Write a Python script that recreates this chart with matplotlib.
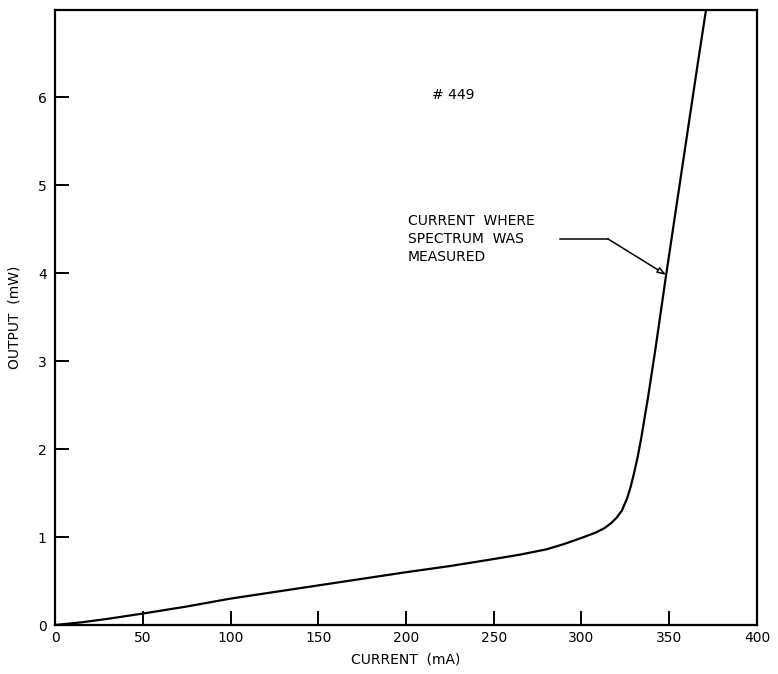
import matplotlib
matplotlib.use("Agg")
from matplotlib import pyplot as plt

# laser #449: light output vs drive current
current = [0, 15, 30, 50, 75, 100, 150, 200, 225, 250, 265, 280, 290, 300,
           308, 313, 317, 320, 323, 326, 328, 330, 332, 334, 338, 342, 348,
           354, 360, 366, 371]
output = [0, 0.03, 0.07, 0.13, 0.21, 0.30, 0.45, 0.60, 0.67, 0.75, 0.80, 0.86,
          0.92, 0.99, 1.05, 1.10, 1.16, 1.22, 1.30, 1.44, 1.57, 1.73, 1.91,
          2.12, 2.60, 3.12, 3.95, 4.75, 5.55, 6.35, 7.00]

x_ticks = [0, 50, 100, 150, 200, 250, 300, 350, 400]
y_ticks = [0, 1, 2, 3, 4, 5, 6]

label_pos = (201, 4.39)
leader_start = (288, 4.39)
leader_knee = (315, 4.39)
measured_point = (348.2, 3.98)

plt.rcParams['font.family'] = ['DejaVu Sans']

fig = plt.figure(figsize=(7.78, 6.74), dpi=100)
ax = fig.add_axes([0.0707, 0.0727, 0.9023, 0.9123])

ax.plot(current, output, color='black', lw=1.6, solid_capstyle='round',
        solid_joinstyle='round')

ax.set_xlim(0, 400)
ax.set_ylim(0, 6.99)
ax.set_xticks(x_ticks)
ax.set_yticks(y_ticks)
ax.tick_params(direction='in', length=10, width=1.4, labelsize=10, pad=6,
               colors='black')
ax.tick_params(axis='x', pad=4)
for s in ax.spines.values():
    s.set_linewidth(1.6)

ax.set_xlabel('CURRENT  (mA)', fontsize=10, labelpad=6)
ax.set_ylabel('OUTPUT  (mW)', fontsize=10, labelpad=12)

ax.text(227, 6.02, '# 449', fontsize=10, ha='center', va='center')

ax.text(label_pos[0], label_pos[1],
        'CURRENT  WHERE\nSPECTRUM  WAS\nMEASURED',
        fontsize=10, ha='left', va='center', linespacing=1.35)
ax.plot([leader_start[0], leader_knee[0]], [leader_start[1], leader_knee[1]],
        color='black', lw=1.1)
ax.annotate('', xy=measured_point, xytext=leader_knee,
            arrowprops=dict(arrowstyle='-|>,head_length=0.5,head_width=0.18',
                            color='black', lw=1.1, fc='white',
                            shrinkA=0, shrinkB=0))

fig.savefig('out.png', dpi=100)
